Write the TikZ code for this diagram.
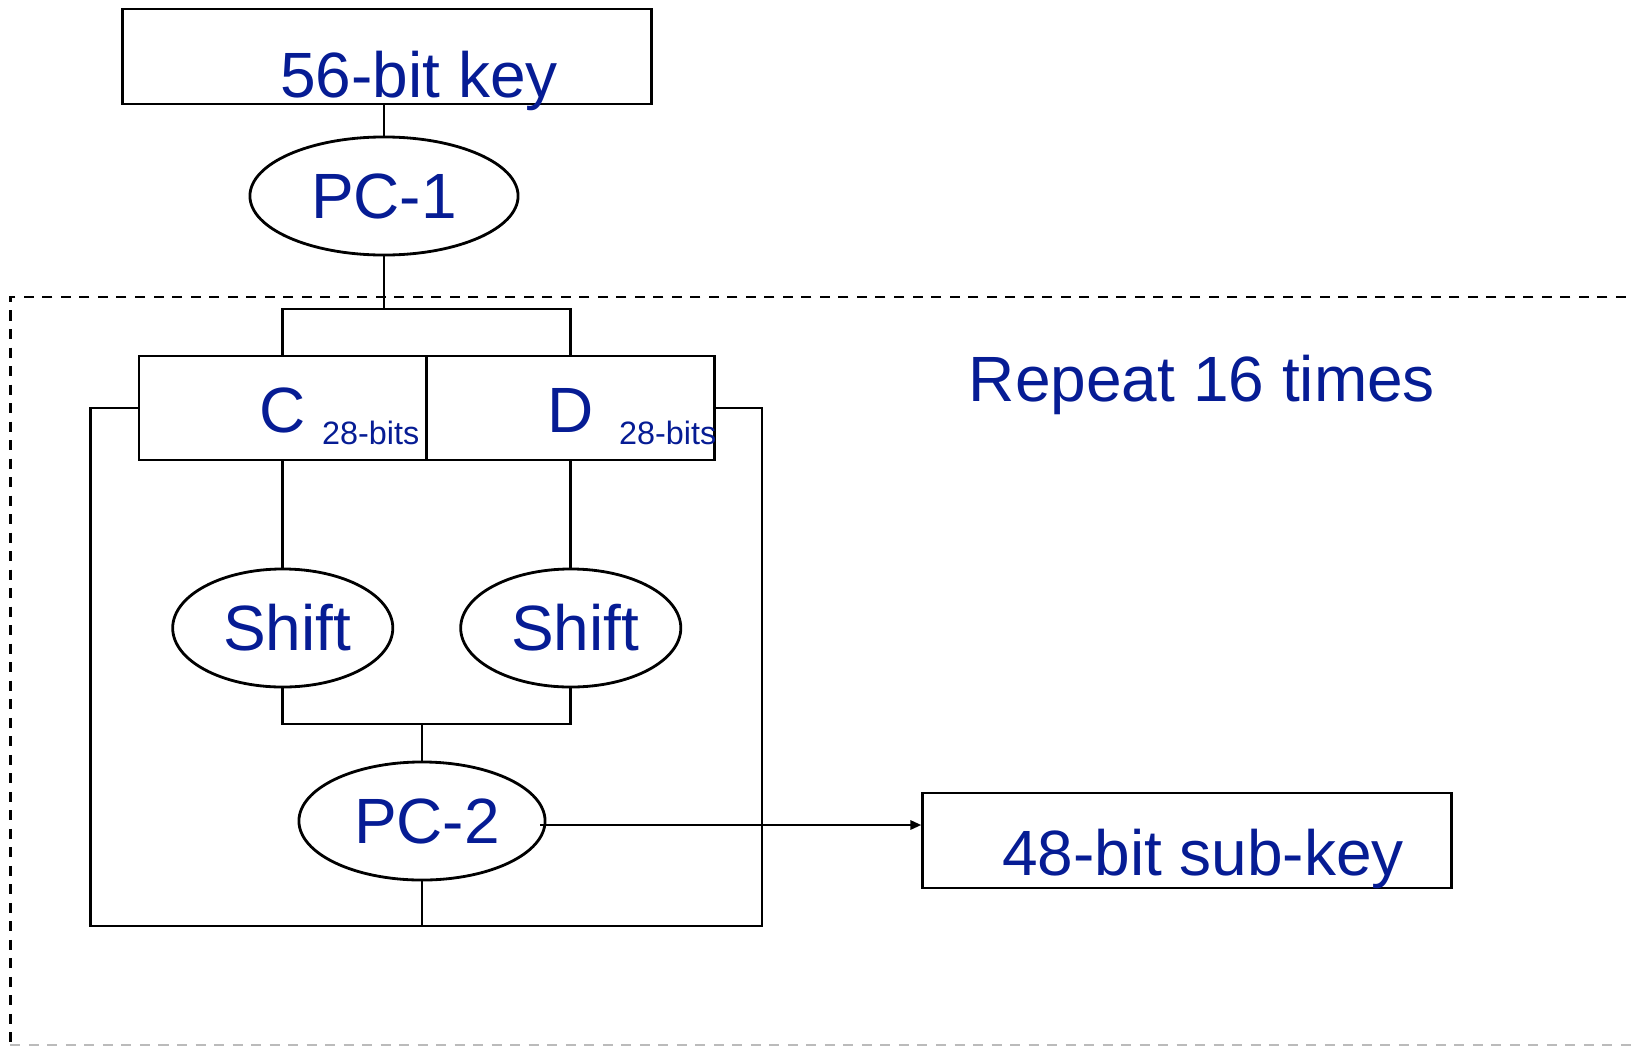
\documentclass[tikz,border=0pt]{standalone}
\usepackage{fontspec}
\setmainfont{Liberation Sans}
\usetikzlibrary{shapes.geometric,arrows.meta}
\definecolor{textblue}{HTML}{061C94}
\definecolor{gray1}{HTML}{BBBBBB}

\begin{document}
\begin{tikzpicture}[x=0.01cm,y=-0.01cm,line width=0.8pt,
	lbl/.style={text=textblue,font=\fontsize{18.2}{20}\selectfont,inner sep=0pt},
	small/.style={text=textblue,font=\fontsize{9.2}{11}\selectfont,inner sep=0pt},
	box/.style={draw,rectangle,inner sep=0pt},
	oval/.style={draw,ellipse,inner sep=0pt,text=textblue,font=\fontsize{18.2}{20}\selectfont},
	loopline/.style={dash pattern=on 0.1cm off 0.085cm,line width=0.75pt},
	arr/.style={-{Triangle[length=0.11cm,width=0.09cm]}}]
\useasboundingbox (0,0) rectangle (1633,1048);
\clip (0,0) rectangle (1633,1048);
% repeat region
\draw[loopline] (1700,297) -- (10.4,297) -- (10.4,1045);
\draw[loopline,gray1] (10.4,1045) -- (1700,1045);
\node[lbl,anchor=base] (repeat) at (1202,401) {Repeat 16 times};
% key and PC-1
\node[box,minimum width=5.28cm,minimum height=0.95cm] (key) at (387,56.5) {};
\node[lbl,anchor=base] (keytxt) at (419,97) {56-bit key};
\node[oval,minimum width=2.68cm,minimum height=1.18cm] (pc1) at (384,196) {PC-1};
\draw (pc1.north |- key.south) -- (pc1.north);
% C and D halves
\foreach \h/\x/\b in {C/282.75/88,D/570.75/97}{
	\node[box,minimum width=2.875cm,minimum height=1.04cm] (\h) at (\x,408) {};
	\node[lbl,anchor=base] (\h txt) at (\x,432) {\h};
	\node[small,anchor=base] (\h bits) at (\x+\b,444) {28-bits};
	\node[oval,minimum width=2.2cm,minimum height=1.18cm] (shift\h) at (\x,628) {\hspace*{0.09cm}Shift};
	\draw (\h.south) -- (shift\h.north);
	}
\coordinate (fork) at (384,309);
\draw (pc1.south) -- (fork);
\draw (C.north) |- (fork) -| (D.north);
% PC-2
\node[oval,minimum width=2.46cm,minimum height=1.18cm] (pc2) at (422,821) {\hspace*{0.1cm}PC-2};
\coordinate (merge) at (422,724);
\draw (shiftC.south) |- (merge) -| (shiftD.south);
\draw (merge) -- (pc2.north);
% feedback
\coordinate (loopL) at (90.6,926);
\coordinate (loopR) at (762,926);
\draw (C.west) -| (loopL) -- (loopR) |- (D.east);
\draw (pc2.south) -- (pc2.south |- loopL);
% sub-key
\node[box,minimum width=5.28cm,minimum height=0.95cm] (sub) at (1187,840.5) {};
\node[lbl,anchor=base] (subtxt) at (1203,875) {48-bit sub-key};
\coordinate (out) at (540,825);
\draw[arr] (out) -- (out -| sub.west);
\end{tikzpicture}
\end{document}
